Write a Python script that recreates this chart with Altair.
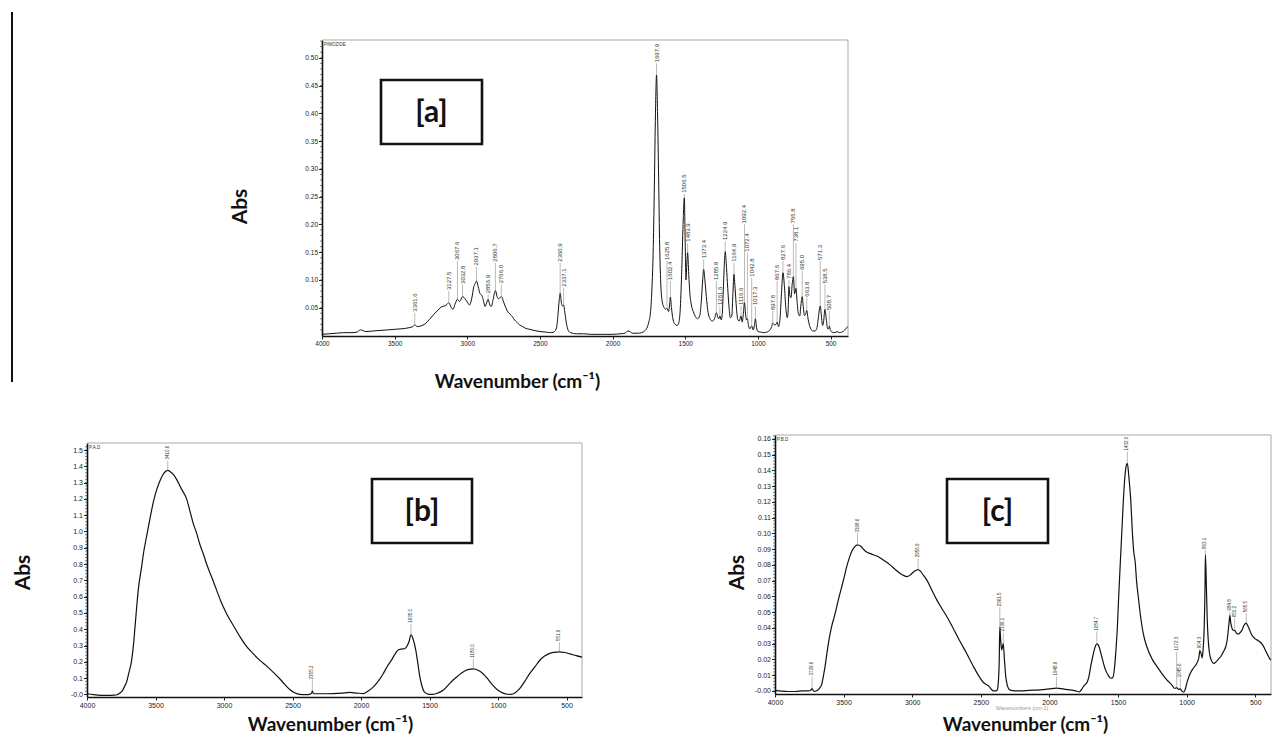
import altair as alt
import pandas as pd

# ---------------- Panel [a] : PIMOZIDE spectrum ----------------
a_wn = [4000, 3950, 3900, 3850, 3800, 3760, 3735, 3720, 3700, 3650,
        3600, 3550, 3500, 3450, 3400, 3375, 3361.6, 3345, 3320, 3290,
        3260, 3230, 3200, 3175, 3155, 3140, 3127.5, 3110, 3098, 3085,
        3067.6, 3055, 3045, 3032.8, 3015, 3000, 2985, 2970, 2955, 2945,
        2937.1, 2925, 2912, 2900, 2890, 2878, 2868, 2856.9, 2845, 2835,
        2822, 2806.7, 2795, 2785, 2766.0, 2750, 2735, 2720, 2705, 2690,
        2675, 2660, 2640, 2620, 2600, 2570, 2540, 2500, 2460, 2420,
        2400, 2385, 2375, 2367, 2360.9, 2352, 2345, 2337.1, 2328, 2318,
        2305, 2290, 2250, 2200, 2150, 2100, 2050, 2000, 1950, 1915,
        1895, 1880, 1865, 1830, 1800, 1780, 1765, 1750, 1740, 1730,
        1720, 1712, 1705, 1697.9, 1690, 1683, 1676, 1668, 1658, 1645,
        1635, 1625.8, 1615, 1608, 1602.4, 1595, 1585, 1570, 1555, 1545,
        1535, 1525, 1515, 1506.5, 1500, 1495, 1490, 1483.9, 1476, 1468,
        1458, 1445, 1430, 1415, 1400, 1390, 1380, 1373.4, 1365, 1355,
        1345, 1330, 1315, 1300, 1285.8, 1275, 1268, 1261.6, 1252, 1245,
        1237, 1230, 1224.9, 1218, 1210, 1200, 1190, 1180, 1172, 1164.9,
        1157, 1148, 1138, 1128, 1116.6, 1108, 1100, 1092.4, 1085, 1078,
        1072.4, 1065, 1055, 1042.8, 1032, 1024, 1017.3, 1010, 1000, 980,
        960, 940, 920, 905, 897.8, 885, 875, 867.6, 858, 848,
        838, 827.6, 818, 808, 798, 792, 786.4, 779, 772, 765,
        755.8, 748, 742, 738.1, 730, 722, 712, 704, 695.0, 688,
        680, 672, 663.8, 655, 645, 632, 620, 608, 595, 585,
        578, 571.3, 563, 555, 548, 538.5, 530, 520, 513, 508.7,
        500, 490, 470, 455, 440, 425, 410, 395, 382]
a_abs = [.002, .003, .004, .005, .005, .006, .010, .009, .007, .008,
         .009, .010, .011, .012, .014, .016, .019, .016, .017, .021,
         .029, .038, .046, .052, .053, .056, .059, .050, .047, .056,
         .065, .061, .064, .070, .066, .060, .055, .066, .088, .094,
         .098, .088, .075, .072, .064, .052, .058, .065, .055, .052,
         .065, .081, .070, .066, .070, .060, .050, .042, .038, .034,
         .028, .024, .019, .016, .013, .011, .009, .007, .006, .005,
         .007, .015, .040, .065, .076, .058, .053, .055, .040, .022,
         .009, .005, .003, .003, .002, .002, .002, .002, .003, .004,
         .008, .007, .004, .004, .005, .008, .013, .025, .040, .080,
         .160, .280, .400, .469, .390, .280, .160, .090, .060, .050,
         .047, .049, .043, .055, .069, .050, .030, .020, .018, .022,
         .045, .110, .200, .248, .160, .100, .125, .149, .110, .075,
         .055, .043, .034, .030, .036, .060, .100, .119, .100, .070,
         .045, .030, .026, .029, .041, .032, .030, .035, .028, .040,
         .090, .135, .151, .130, .095, .055, .032, .035, .075, .110,
         .085, .050, .028, .026, .035, .024, .040, .059, .038, .028,
         .030, .018, .012, .017, .010, .018, .030, .015, .007, .006,
         .005, .006, .009, .016, .022, .019, .020, .024, .016, .030,
         .075, .113, .090, .050, .032, .045, .088, .070, .068, .090,
         .106, .075, .080, .085, .060, .040, .035, .055, .070, .052,
         .036, .038, .045, .030, .018, .010, .008, .008, .012, .030,
         .045, .053, .035, .018, .025, .047, .030, .012, .012, .017,
         .009, .006, .005, .007, .005, .006, .008, .012, .016]

a_lab_wn = [3361.6, 3127.5, 3067.6, 3032.8, 2937.1, 2856.9, 2806.7, 2766.0, 2360.9, 2337.1,
            1697.9, 1625.8, 1602.4, 1506.5, 1483.9, 1373.4, 1285.8, 1261.6, 1224.9, 1164.9,
            1116.6, 1092.4, 1072.4, 1042.8, 1017.3, 897.8, 867.6, 827.6, 786.4, 755.8,
            738.1, 695.0, 663.8, 571.3, 538.5, 508.7]
a_lab_peak = [0.019, 0.059, 0.065, 0.070, 0.098, 0.065, 0.081, 0.070, 0.076, 0.055,
              0.469, 0.049, 0.069, 0.248, 0.149, 0.119, 0.041, 0.035, 0.151, 0.110,
              0.035, 0.059, 0.030, 0.017, 0.030, 0.022, 0.024, 0.113, 0.088, 0.106,
              0.085, 0.070, 0.045, 0.053, 0.047, 0.017]
a_lab_base = [0.041, 0.080, 0.134, 0.091, 0.124, 0.074, 0.131, 0.092, 0.131, 0.086,
              0.490, 0.134, 0.098, 0.255, 0.167, 0.137, 0.098, 0.053, 0.170, 0.131,
              0.053, 0.200, 0.149, 0.104, 0.053, 0.044, 0.098, 0.134, 0.100, 0.200,
              0.167, 0.116, 0.068, 0.134, 0.092, 0.044]
a_yticks = [0.05, 0.10, 0.15, 0.20, 0.25, 0.30, 0.35, 0.40, 0.45, 0.50]

# ---------------- Panel [b] ----------------
b_wn = [4000, 3950, 3900, 3850, 3800, 3780, 3760, 3740, 3725, 3711,
        3695, 3674, 3660, 3650, 3638, 3626, 3602, 3585, 3565, 3540,
        3516, 3490, 3468, 3445, 3425, 3410.6, 3390, 3370, 3346, 3310,
        3273, 3250, 3225, 3200, 3176, 3150, 3127, 3090, 3054, 3020,
        2981, 2930, 2884, 2840, 2787, 2740, 2690, 2640, 2593, 2555,
        2520, 2485, 2447, 2400, 2370, 2360, 2355.2, 2350, 2340, 2300,
        2250, 2200, 2140, 2082, 2030, 1984, 1950, 1911, 1875, 1839,
        1810, 1778, 1750, 1729, 1705, 1681, 1662, 1649, 1635.0, 1620,
        1600, 1585, 1571, 1555, 1535, 1505, 1474, 1440, 1401, 1365,
        1328, 1290, 1255, 1220, 1180.0, 1145, 1109, 1075, 1037, 1000,
        963, 930, 903, 875, 842, 805, 769, 730, 696, 660,
        623, 590, 551.9, 515, 477, 430, 387]
b_abs = [.004, -.002, -.006, -.006, -.004, -.002, .008, .025, .05, .075,
         .13, .21, .31, .41, .53, .64, .78, .88, .97, 1.08,
         1.18, 1.26, 1.31, 1.35, 1.37, 1.375, 1.365, 1.35, 1.32, 1.26,
         1.20, 1.13, 1.05, 0.99, 0.92, 0.86, 0.80, 0.72, 0.64, 0.565,
         .495, .42, .355, .30, .25, .21, .175, .135, .096, .06,
         .03, .01, 0.0, -.002, .002, .01, .02, .008, .004, .004,
         .004, .005, .008, .012, .008, .005, .02, .045, .08, .125,
         .17, .21, .25, .272, .278, .28, .30, .325, .366, .34,
         .27, .19, .11, .05, .012, 0.0, 0.0, .008, .025, .055,
         .088, .115, .138, .152, .157, .148, .127, .095, .055, .025,
         .008, .001, 0.0, .01, .035, .08, .127, .17, .208, .235,
         .252, .258, .261, .257, .249, .238, .229]
b_lab_wn = [3410.6, 2355.2, 1635.0, 1180.0, 551.9]
b_lab_peak = [1.375, 0.02, 0.366, 0.157, 0.261]
b_lab_base = [1.435, 0.086, 0.433, 0.219, 0.321]
b_yticks = [0.0, 0.1, 0.2, 0.3, 0.4, 0.5, 0.6, 0.7, 0.8, 0.9, 1.0, 1.1, 1.2, 1.3, 1.4, 1.5]

# ---------------- Panel [c] ----------------
c_wn = [4000, 3950, 3900, 3850, 3800, 3760, 3740, 3729.6, 3720, 3710,
        3695, 3684, 3672, 3660, 3648, 3635, 3623, 3611, 3599, 3587,
        3568, 3550, 3532, 3514, 3495, 3477, 3460, 3441, 3420, 3398.6,
        3375, 3350, 3332, 3300, 3270, 3247, 3200, 3161, 3125, 3089,
        3060, 3040, 3015, 2991, 2970, 2956.9, 2940, 2915, 2894, 2860,
        2821, 2785, 2748, 2700, 2651, 2600, 2554, 2515, 2481, 2460,
        2444, 2425, 2408, 2390, 2379, 2372, 2366, 2361.5, 2355, 2348,
        2342, 2336.1, 2328, 2318, 2305, 2290, 2250, 2213, 2150, 2068,
        2000, 1948.9, 1900, 1849, 1810, 1781, 1765, 1750, 1740, 1725,
        1712, 1700, 1685, 1670, 1654.7, 1640, 1625, 1606, 1590, 1569,
        1553, 1538, 1525, 1515, 1505, 1495, 1484, 1470, 1455, 1440,
        1432.0, 1420, 1407, 1395, 1385, 1375, 1365, 1350, 1338, 1315,
        1290, 1250, 1217, 1180, 1144, 1110, 1085, 1072.3, 1060, 1045.6,
        1035, 1020, 1010, 995, 974, 950, 925, 910, 904.3, 895,
        887, 880, 872, 866, 863.1, 857, 850, 843, 835, 820,
        804, 790, 770, 750, 731, 715, 705, 697, 690, 684.8,
        678, 668, 660, 650.2, 640, 625, 610, 597, 585, 575,
        565.5, 555, 540, 525, 500, 480, 464, 445, 427, 410,
        395, 386]
c_abs = [.0003, -.0002, -.0004, -.0004, 0.0, 0.0, .0004, .0015, 0.0, -.0004,
         .0002, .0008, .002, .004, .009, .0155, .023, .030, .036, .041,
         .047, .0535, .060, .066, .0725, .079, .084, .0885, .0915, .0927,
         .0918, .0895, .0882, .087, .086, .0852, .0825, .080, .0772, .0747,
         .0732, .0726, .0735, .0755, .0766, .077, .076, .073, .0705, .0645,
         .0578, .0525, .0472, .0395, .0313, .0233, .0155, .0095, .0053, .004,
         .0032, .0012, 0.0, 0.0, .0008, .006, .018, .0405, .032, .026,
         .028, .030, .020, .009, .003, .0006, 0.0, 0.0, .0003, .0006,
         .0012, .0017, .0012, .0006, 0.0, -.0006, .001, .003, .004, .0055,
         .009, .015, .0215, .027, .0298, .0285, .024, .0175, .013, .0095,
         .008, .0085, .015, .026, .040, .060, .080, .105, .130, .143,
         .1445, .135, .121, .100, .088, .082, .070, .058, .049, .036,
         .028, .020, .0155, .011, .007, .004, .0015, .002, .001, .0012,
         -.0002, -.0008, .001, .006, .011, .0145, .0176, .0215, .0255, .024,
         .021, .026, .040, .065, .0863, .070, .046, .033, .025, .0195,
         .0175, .018, .020, .022, .025, .028, .032, .038, .044, .048,
         .043, .0395, .0385, .0384, .037, .036, .037, .0385, .041, .0425,
         .043, .0415, .0385, .0355, .033, .032, .031, .029, .026, .023,
         .0205, .0195]
c_lab_wn = [3729.6, 3398.6, 2956.9, 2361.5, 2336.1, 1948.9, 1654.7, 1432.0, 1072.3, 1045.6,
            904.3, 863.1, 684.8, 650.2, 565.5]
c_lab_peak = [0.0015, 0.0927, 0.0770, 0.0405, 0.0300, 0.0017, 0.0298, 0.1445, 0.0020, 0.0012,
              0.0255, 0.0863, 0.0480, 0.0384, 0.0430]
c_lab_base = [0.0091, 0.1000, 0.0842, 0.0531, 0.0370, 0.0091, 0.0377, 0.1520, 0.0250, 0.0080,
              0.0265, 0.0895, 0.0504, 0.0461, 0.0493]
c_yticks = [0.00, 0.01, 0.02, 0.03, 0.04, 0.05, 0.06, 0.07, 0.08, 0.09,
            0.10, 0.11, 0.12, 0.13, 0.14, 0.15, 0.16]

x_ticks = [4000, 3500, 3000, 2500, 2000, 1500, 1000, 500]

assert len(a_wn) == len(a_abs) and len(b_wn) == len(b_abs) and len(c_wn) == len(c_abs)
assert len(a_lab_wn) == len(a_lab_peak) == len(a_lab_base)
assert len(c_lab_wn) == len(c_lab_peak) == len(c_lab_base)

TICK_FONT = "Liberation Sans"
TITLE_FONT = "Lato"
XTITLE = "Wavenumber (cm\u207b\u00b9)"
FRAME = "#a9a9a9"


def panel(wn, ab, lw, lp, lb, lab_fs, xlo, ydom, w, h, xr, yr, yoff, yvals, ylabexpr,
          minor_vals, ytitle_xy, xtitle_xy, box, box_txt, tag, axis_fs, line_w, extra=None):
    xs = alt.Scale(domain=[4000, xlo], range=list(xr), nice=False, zero=False)
    ys = alt.Scale(domain=ydom, range=list(yr), nice=False, zero=False)
    xaxis = alt.Axis(values=x_ticks, format="d", labelFont=TICK_FONT, labelFontSize=axis_fs,
                     labelColor="#222", labelFlush=False, labelOverlap=False, labelPadding=1,
                     tickSize=3, tickColor="#222", domainColor="#111", domainWidth=1.4,
                     grid=False, title=XTITLE, titleFont=TITLE_FONT, titleFontSize=19,
                     titleFontWeight="bold", titleColor="#111", titleX=xtitle_xy[0],
                     titleY=xtitle_xy[1], titleAlign="center", titleBaseline="middle")
    yaxis = alt.Axis(values=yvals, labelExpr=ylabexpr, labelFont=TICK_FONT, labelFontSize=axis_fs,
                     labelColor="#222", labelFlush=False, labelOverlap=False, labelSeparation=0,
                     labelPadding=1, offset=yoff,
                     tickSize=3.5, tickColor="#222", domainColor="#111", domainWidth=1.6,
                     grid=False, title="Abs", titleFont=TITLE_FONT, titleFontSize=21,
                     titleFontWeight="bold", titleColor="#111", titleAngle=270,
                     titleX=ytitle_xy[0], titleY=ytitle_xy[1], titleAlign="center",
                     titleBaseline="middle")
    X = lambda f: alt.X(f, scale=xs, axis=xaxis)
    Y = lambda f: alt.Y(f, scale=ys, axis=yaxis)

    df = pd.DataFrame({"wn": wn, "A": ab})
    ldf = pd.DataFrame({"wn": lw, "A": lp, "A2": lb, "txt": [f"{v:.1f}" for v in lw]})
    mdf = pd.DataFrame({"A": minor_vals})
    one = pd.DataFrame({"t": [box_txt], "g": [tag]})

    line = alt.Chart(df).mark_line(color="#111", strokeWidth=line_w, interpolate="monotone").encode(
        x=X("wn:Q"), y=Y("A:Q"))
    leaders = alt.Chart(ldf).mark_rule(color="#8c8c8c", strokeWidth=0.6).encode(
        x=X("wn:Q"), y=Y("A:Q"), y2="A2:Q")
    labels = alt.Chart(ldf).mark_text(angle=270, align="left", baseline="middle", font=TICK_FONT,
                                      fontSize=lab_fs, color="#333", dx=1).encode(
        x=X("wn:Q"), y=Y("A2:Q"), text="txt:N")
    minor = alt.Chart(mdf).mark_rule(color="#333", strokeWidth=0.6).encode(
        y=Y("A:Q"), x=alt.value(xr[0]), x2=alt.value(xr[0] - 2))
    ftop = alt.Chart(one).mark_rule(color=FRAME, strokeWidth=1).encode(
        x=alt.value(xr[0]), x2=alt.value(xr[1]), y=alt.value(yr[1]))
    fright = alt.Chart(one).mark_rule(color=FRAME, strokeWidth=1).encode(
        x=alt.value(xr[1]), y=alt.value(yr[1]), y2=alt.value(yr[0]))
    rect = alt.Chart(one).mark_rect(fill="white", stroke="#111", strokeWidth=2.6).encode(
        x=alt.value(box[0]), x2=alt.value(box[1]), y=alt.value(box[2]), y2=alt.value(box[3]))
    rtext = alt.Chart(one).mark_text(font=TITLE_FONT, fontSize=30, fontWeight="bold", color="#111",
                                     align="center", baseline="middle").encode(
        x=alt.value((box[0] + box[1]) / 2), y=alt.value((box[2] + box[3]) / 2 + 1), text="t:N")
    tagt = alt.Chart(one).mark_text(font=TICK_FONT, fontSize=4.5, color="#333", align="left",
                                    baseline="top").encode(
        x=alt.value(xr[0] + 2), y=alt.value(yr[1] + 1.5), text="g:N")
    layers = [ftop, fright, line, leaders, labels, minor, rect, rtext, tagt]
    if extra is not None:
        layers.append(alt.Chart(pd.DataFrame({"e": [extra[0]]})).mark_text(
            font=TICK_FONT, fontSize=5.5, color="#9a9a9a", align="center", baseline="middle").encode(
            x=alt.value(extra[1]), y=alt.value(extra[2]), text="e:N"))
    return alt.layer(*layers).properties(width=w, height=h)


a_minor = [round(0.01 * i, 3) for i in range(1, 54)]
b_minor = [round(0.02 * i, 3) for i in range(0, 77)]
c_minor = [round(0.002 * i, 4) for i in range(0, 82)]

# panel a sits in the left grid column; its plot is shifted right via the scale range
pa = panel(a_wn, a_abs, a_lab_wn, a_lab_peak, a_lab_base, 6, 380, [-0.001, 0.532], 495, 296,
           (235, 761), (296, 0), -235, a_yticks, "format(datum.value, '.2f')", a_minor,
           (-82, 166), (430, 45), (294, 395, 40, 104), "[a]", "PIMOZIDE", 6.5, 1.0)
pb = panel(b_wn, b_abs, b_lab_wn, b_lab_peak, b_lab_base, 4.5, 387, [-0.016, 1.543], 495, 262,
           (0, 495), (262, 8), 0, b_yticks,
           "datum.value == 0 ? '-0.0' : format(datum.value, '.1f')", b_minor,
           (-64, 137), (243, 27), (285, 385, 44, 108), "[b]", "P.A.D", 7, 1.2)
pc = panel(c_wn, c_abs, c_lab_wn, c_lab_peak, c_lab_base, 4.5, 385, [-0.002, 0.1625], 496, 259,
           (0, 496), (259, 0), 0, c_yticks,
           "datum.value == 0 ? '-0.00' : format(datum.value, '.2f')", c_minor,
           (-38, 137), (250, 30), (172, 273, 44, 108), "[c]", "P.B.D", 7, 1.2,
           extra=("Wavenumbers (cm-1)", 247, 273))

# right cell of the top row: carries the black margin line at the far left of the figure
spacer = alt.Chart(pd.DataFrame({"k": [0]})).mark_rule(color="#111", strokeWidth=2).encode(
    x=alt.value(-763), y=alt.value(-28), y2=alt.value(342)
).properties(width=100, height=296)

chart = alt.concat(pa, spacer, pb, pc, columns=2, align="each", bounds="flush",
                   spacing={"row": 99, "column": 193}).properties(padding=3).configure_view(
    stroke="transparent", strokeOpacity=0).configure_axis(labelOverlap=False)

chart.save("out.html", embed_options={"renderer": "svg", "actions": False})
